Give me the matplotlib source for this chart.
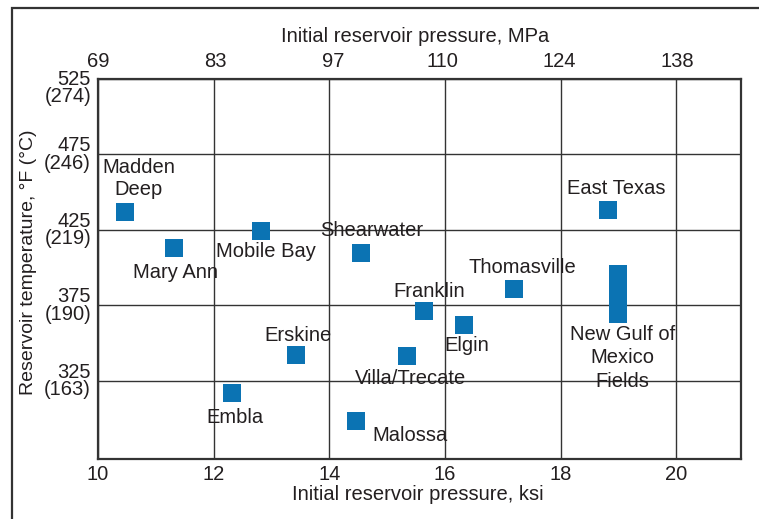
import matplotlib
matplotlib.use('Agg')
import matplotlib.pyplot as plt
from matplotlib.patches import Rectangle

# Field data: initial pressure (ksi) vs reservoir temperature (deg F)
fields = ["Madden\nDeep", "Mobile Bay", "Mary Ann", "Shearwater", "East Texas",
          "Thomasville", "Franklin", "Elgin", "Villa/Trecate", "Erskine",
          "Embla", "Malossa"]
pressure_ksi = [10.46, 12.82, 11.31, 14.55, 18.82, 17.20, 15.64, 16.33, 15.35, 13.43, 12.32, 14.46]
temp_f = [437, 424, 413, 410, 438, 386, 371, 362, 341.5, 342, 317, 298.5]

# New Gulf of Mexico fields plotted as a range
gom_pressure = 19.0
gom_temp_low = 363.5
gom_temp_high = 401.5

ksi_ticks = [10, 12, 14, 16, 18, 20]
mpa_ticks = [69, 83, 97, 110, 124, 138]
temp_ticks = [525, 475, 425, 375, 325]
temp_c_labels = ["274", "246", "219", "190", "163"]

# label offsets in pixels (dx, dy, ha)
label_offsets = {
    "Madden\nDeep": (14, 33, "center"),
    "Mobile Bay": (5, -20, "center"),
    "Mary Ann": (2, -24, "center"),
    "Shearwater": (11, 22, "center"),
    "East Texas": (8, 22, "center"),
    "Thomasville": (8, 21, "center"),
    "Franklin": (5, 20, "center"),
    "Elgin": (3, -20, "center"),
    "Villa/Trecate": (3, -22, "center"),
    "Erskine": (2, 20, "center"),
    "Embla": (3, -24, "center"),
    "Malossa": (16, -15, "left"),
}

blue = "#0b73b3"
ink = "#231f20"
plt.rcParams['font.family'] = ['Liberation Sans', 'DejaVu Sans']
plt.rcParams['font.size'] = 14.5

fig = plt.figure(figsize=(7.59, 5.19), dpi=100)
ax = fig.add_axes([98 / 759, 1 - 459 / 519, 643 / 759, 380 / 519])

ax.plot(pressure_ksi, temp_f, linestyle='none', marker='s', markersize=13,
        markerfacecolor=blue, markeredgewidth=0, zorder=3)
ax.bar(gom_pressure, gom_temp_high - gom_temp_low, bottom=gom_temp_low,
       width=0.31, color=blue, zorder=3)

for name, x, y in zip(fields, pressure_ksi, temp_f):
    dx, dy, ha = label_offsets[name]
    ax.annotate(name, xy=(x, y), xytext=(dx, dy), textcoords='offset pixels',
                ha=ha, va='center', color=ink, linespacing=1.2)
ax.annotate("New Gulf of\nMexico\nFields", xy=(gom_pressure, gom_temp_low),
            xytext=(4, -2), textcoords='offset pixels', ha='center', va='top',
            color=ink, linespacing=1.3)

ax.set_xlim(10, 21.12)
ax.set_ylim(273.3, 525)
ax.set_xticks(ksi_ticks)
ax.set_yticks(temp_ticks)
ax.set_yticklabels([])
ax.tick_params(axis='both', length=0, colors=ink)
ax.tick_params(axis='x', pad=4)
ax.grid(True, color='#333333', linewidth=1.0)
ax.set_axisbelow(True)
for s in ax.spines.values():
    s.set_linewidth(1.6)
    s.set_color('#333333')

# temperature labels in deg F with deg C underneath
for f, c in zip(temp_ticks, temp_c_labels):
    dy = -9 if f == temp_ticks[0] else 0
    ax.annotate(f"{f}\n({c})", xy=(0, f), xycoords=('axes fraction', 'data'),
                xytext=(-7, dy), textcoords='offset pixels', ha='right',
                va='center', multialignment='right', color=ink, linespacing=0.9)

top = ax.secondary_xaxis('top', functions=(lambda k: k * 6.895, lambda m: m / 6.895))
top.set_xticks(mpa_ticks)
top.tick_params(length=0, pad=6, colors=ink)
top.spines['top'].set_visible(False)

fig.text(418 / 759, 1 - 495 / 519, "Initial reservoir pressure, ksi",
         ha='center', va='center', color=ink)
fig.text(415 / 759, 1 - 37 / 519, "Initial reservoir pressure, MPa",
         ha='center', va='center', color=ink)
fig.text(29 / 759, 1 - 262 / 519, "Reservoir temperature, \u00b0F (\u00b0C)",
         ha='center', va='center', rotation=90, color=ink, fontsize=14)

# outer border of the figure panel
fig.patches.append(Rectangle((12 / 759, -0.1), 1.2, 1 - 8 / 519 + 0.1,
                             transform=fig.transFigure, fill=False,
                             edgecolor='#333333', linewidth=1.6))

fig.savefig('out.png', dpi=100)
